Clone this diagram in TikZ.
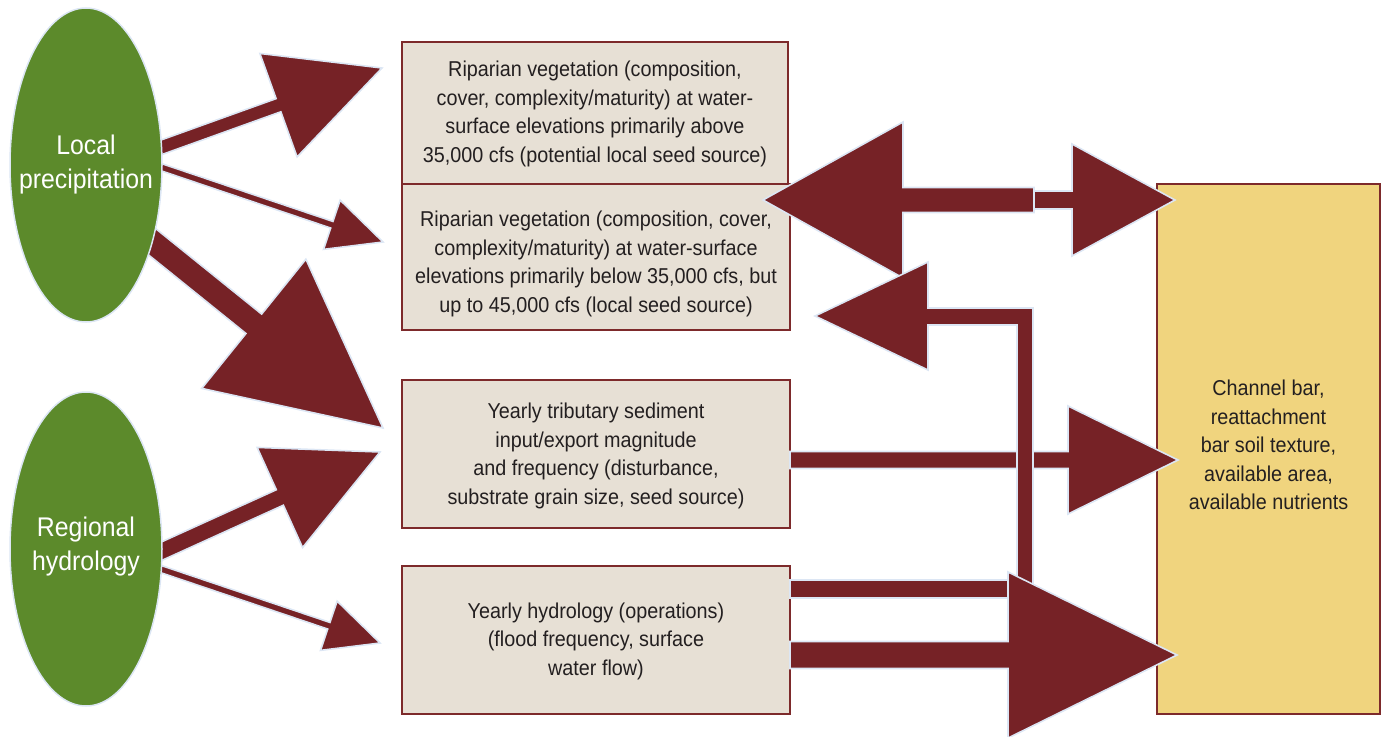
\documentclass[tikz,border=0pt]{standalone}
\usepackage{fontspec}
\setmainfont{Liberation Sans}[FakeStretch=0.92]
\usetikzlibrary{calc,shapes.geometric}
\definecolor{arrred}{HTML}{762226}
\definecolor{arrline}{HTML}{DCE6F4}
\definecolor{boxfill}{HTML}{E7E0D5}
\definecolor{boxline}{HTML}{7D2A2B}
\definecolor{yellowfill}{HTML}{F0D47E}
\definecolor{greenfill}{HTML}{5C8A2B}
\definecolor{textgray}{HTML}{231F20}
\tikzset{
  boxnode/.style={draw=boxline, line width=1.8pt, fill=boxfill, inner sep=0pt},
  yellownode/.style={boxnode, fill=yellowfill},
  boxtext/.style={inner sep=0pt, align=center, text=textgray, font=\fontsize{21.5}{28.5}\selectfont},
  ellnode/.style={ellipse, draw=arrline, line width=1.5pt, fill=greenfill, inner sep=0pt,
    minimum width=152pt, minimum height=314pt},
  elltext/.style={inner sep=0pt, align=center, text=white, font=\fontsize{27}{34}\selectfont},
  barrow/.style={fill=arrred, draw=arrline, line width=1.6pt, line join=miter}
}
\newcommand{\blockarr}[5]{%
  \path ($(#2)!#5!(#1)$) coordinate (hb);
  \filldraw[barrow] ($(#1)!#3!90:(#2)$) -- ($(hb)!#3!90:(#2)$) -- ($(hb)!#4!90:(#2)$) -- (#2)
    -- ($(hb)!#4!-90:(#2)$) -- ($(hb)!#3!-90:(#2)$) -- ($(#1)!#3!-90:(#2)$) -- cycle;
}
\begin{document}
\begin{tikzpicture}[x=1pt,y=-1pt]
\useasboundingbox (0,0) rectangle (1383,736);
% boxes
\node[boxnode, minimum width=386pt, minimum height=142pt] (box1) at (595,113) {};
\node[boxtext] (box1t) at ($(box1.center)+(0,1)$)
  {Riparian vegetation (composition,\\ cover, complexity/maturity) at water-\\ surface elevations primarily above\\ 35,000 cfs (potential local seed source)};
\node[boxnode, minimum width=388pt, minimum height=146pt] (box2) at (596,257) {};
\node[boxtext] (box2t) at ($(box2.center)+(0,7)$)
  {Riparian vegetation (composition, cover,\\ complexity/maturity) at water-surface\\ elevations primarily below 35,000 cfs, but\\ up to 45,000 cfs (local seed source)};
\node[boxnode, minimum width=388pt, minimum height=148pt] (box3) at (596,454) {};
\node[boxtext] (box3t) at ($(box3.center)+(0,2)$)
  {Yearly tributary sediment\\ input/export magnitude\\ and frequency (disturbance,\\ substrate grain size, seed source)};
\node[boxnode, minimum width=388pt, minimum height=148pt] (box4) at (596,640) {};
\node[boxtext] (box4t) at ($(box4.center)+(0,1)$)
  {Yearly hydrology (operations)\\ (flood frequency, surface\\ water flow)};
\node[yellownode, minimum width=223pt, minimum height=530pt] (box5) at (1268.5,449) {};
\node[boxtext] (box5t) at ($(box5.center)+(0,-4)$)
  {Channel bar,\\ reattachment\\ bar soil texture,\\ available area,\\ available nutrients};
% connector end points
\coordinate (a0) at (140,155); \coordinate (a1) at (382,68);
\coordinate (b0) at (140,160); \coordinate (b1) at (383,242);
\coordinate (c0) at (140,232); \coordinate (c1) at (383,428);
\coordinate (d0) at (140,561); \coordinate (d1) at (380,452);
\coordinate (e0) at (140,562); \coordinate (e1) at (380,643);
\coordinate (m0) at (1034,200); \coordinate (l1) at (763,200); \coordinate (r1) at (1175,200);
\coordinate (g0) at (790,460); \coordinate (g1) at (1178,460);
\coordinate (h0) at (790,655); \coordinate (h1) at (1177,655);
% arrows from ellipses
\blockarr{a0}{a1}{7pt}{55pt}{110pt}
\blockarr{b0}{b1}{3.5pt}{26pt}{54pt}
\blockarr{c0}{c1}{12.5pt}{83pt}{166pt}
\blockarr{d0}{d1}{8.5pt}{55pt}{110pt}
\blockarr{e0}{e1}{3.5pt}{26pt}{54pt}
% double arrow between riparian vegetation and channel bar
\blockarr{m0}{l1}{12.5pt}{78pt}{140pt}
\blockarr{m0}{r1}{9pt}{56pt}{103pt}
% sediment to channel bar
\blockarr{g0}{g1}{8.5pt}{54pt}{110pt}
% return arrow from hydrology to riparian vegetation
\filldraw[barrow] (790,580) -- (1017,580) -- (1017,325) -- (928,325) -- (928,370) -- (815,316)
  -- (928,262) -- (928,308) -- (1033,308) -- (1033,598) -- (790,598) -- cycle;
% hydrology to channel bar
\blockarr{h0}{h1}{13.5pt}{83pt}{169pt}
% ellipses
\node[ellnode] (local) at (86,165) {};
\node[elltext] (localt) at ($(local.center)+(0,0)$) {Local\\ precipitation};
\node[ellnode] (regional) at (86,549) {};
\node[elltext] (regionalt) at ($(regional.center)+(0,-2)$) {Regional\\ hydrology};
\end{tikzpicture}
\end{document}
